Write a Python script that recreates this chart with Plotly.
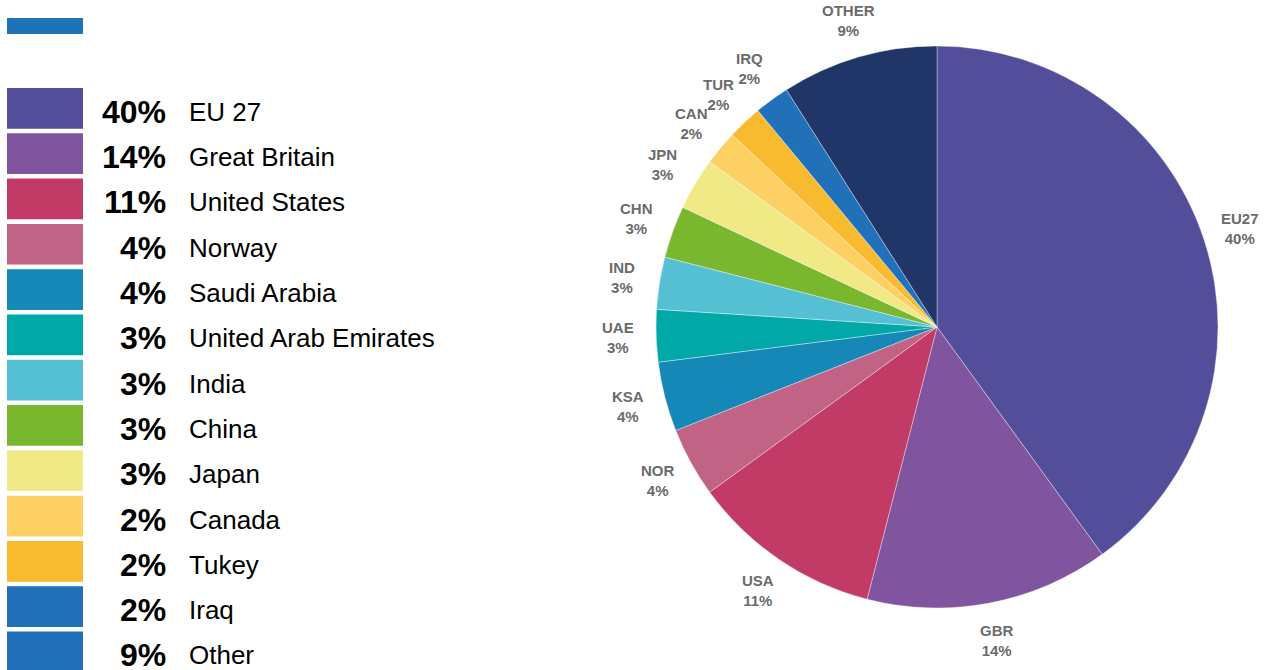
import math
import plotly.graph_objects as go

# ---- data ----
codes = ["EU27", "GBR", "USA", "NOR", "KSA", "UAE", "IND", "CHN", "JPN", "CAN", "TUR", "IRQ", "OTHER"]
names = ["EU 27", "Great Britain", "United States", "Norway", "Saudi Arabia", "United Arab Emirates",
         "India", "China", "Japan", "Canada", "Tukey", "Iraq", "Other"]
shares = [40, 14, 11, 4, 4, 3, 3, 3, 3, 2, 2, 2, 9]
pie_colors = ["#524e9a", "#8154a0", "#c23a66", "#c16384", "#1688b8", "#00a8a8", "#55c0d4",
              "#78b72e", "#f0e986", "#fdd064", "#f8bb30", "#2071b8", "#213668"]
legend_colors = pie_colors[:-1] + ["#2071b8"]
header_color = "#1f72b8"

W, H = 1274, 670
CX, CY, R = 937, 327, 281
FONT = "Liberation Sans, Arial, Helvetica, sans-serif"

fig = go.Figure()

fig.add_trace(go.Pie(
    labels=codes, values=shares, sort=False, direction="clockwise", rotation=0,
    marker=dict(colors=pie_colors, line=dict(color="rgba(255,255,255,0.6)", width=0.6)),
    textinfo="none", showlegend=False,
    domain=dict(x=[(CX - R) / W, (CX + R) / W], y=[1 - (CY + R) / H, 1 - (CY - R) / H]),
))

# invisible trace to activate pixel axes
fig.add_trace(go.Scatter(x=[0], y=[0], mode="markers", marker=dict(opacity=0), showlegend=False,
                         hoverinfo="skip"))

shapes = []
annotations = []

# header bar
shapes.append(dict(type="rect", xref="x", yref="y", x0=7, x1=83, y0=18, y1=34,
                   fillcolor=header_color, line=dict(width=0), layer="below"))

# legend rows
top0, pitch, rh = 88, 45.3, 40.7
for i, (nm, s, c) in enumerate(zip(names, shares, legend_colors)):
    y0 = top0 + i * pitch
    shapes.append(dict(type="rect", xref="x", yref="y", x0=7, x1=83, y0=y0, y1=y0 + rh,
                       fillcolor=c, line=dict(width=0), layer="below"))
    yc = y0 + rh / 2 + 3.5
    annotations.append(dict(x=168, y=yc, xref="x", yref="y", text=f"<b>{s}%</b>", showarrow=False,
                            xanchor="right", yanchor="middle",
                            font=dict(family=FONT, size=32, color="#000000")))
    annotations.append(dict(x=187, y=yc, xref="x", yref="y", text=nm, showarrow=False,
                            xanchor="left", yanchor="middle",
                            font=dict(family=FONT, size=26, color="#000000")))

# pie labels
total = sum(shares)
cum = 0
for code, s in zip(codes, shares):
    mid = (cum + s / 2) / total * 2 * math.pi
    cum += s
    rl = R * 1.135
    x = CX + rl * math.sin(mid)
    y = CY - rl * math.cos(mid)
    annotations.append(dict(x=x, y=y, xref="x", yref="y",
                            text=f"<b>{code}<br>{round(s / total * 100)}%</b>", showarrow=False,
                            xanchor="center", yanchor="middle", align="center",
                            font=dict(family=FONT, size=15, color="#6b6b6b")))

fig.update_layout(
    width=W, height=H, margin=dict(l=0, r=0, t=0, b=0),
    paper_bgcolor="white", plot_bgcolor="rgba(0,0,0,0)",
    xaxis=dict(range=[0, W], visible=False, domain=[0, 1], fixedrange=True),
    yaxis=dict(range=[H, 0], visible=False, domain=[0, 1], fixedrange=True),
    shapes=shapes, annotations=annotations, showlegend=False,
)

fig.write_html("out.html", config={"displayModeBar": False},
               post_script="document.body.style.margin='0';document.body.style.overflow='hidden';")
